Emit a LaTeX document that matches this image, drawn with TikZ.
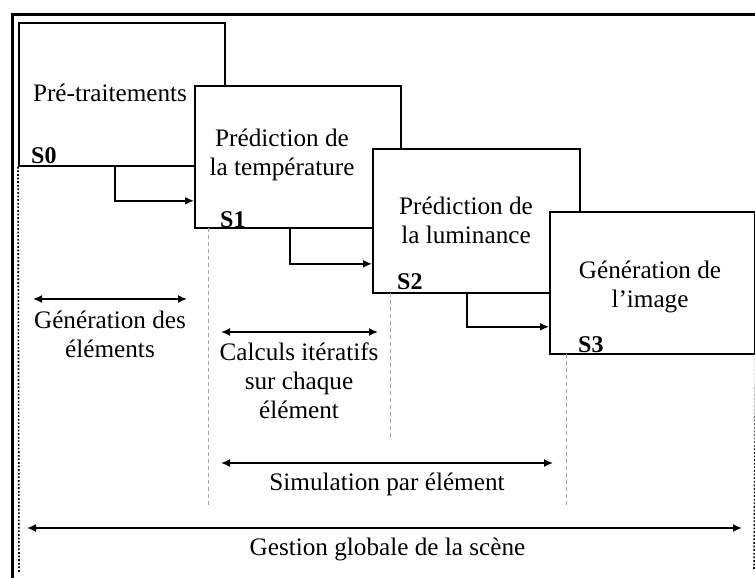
\documentclass[tikz,border=0pt]{standalone}
\usepackage{fontspec}
\setmainfont{Liberation Serif}
\usetikzlibrary{arrows.meta}
\begin{document}
\begin{tikzpicture}[x=1pt,y=-1pt,
  every node/.style={font=\fontsize{25.2}{29}\selectfont, inner sep=0pt},
  box/.style={draw, fill=white, line width=1.8pt, inner sep=0pt, anchor=north west},
  lbl/.style={anchor=base, align=center},
  slbl/.style={anchor=base west, font=\fontsize{24}{28}\selectfont\bfseries},
  arr/.style={line width=1.6pt, -{Latex[length=9pt,width=8pt]}},
  darr/.style={line width=1.6pt, {Latex[length=9pt,width=8pt]}-{Latex[length=9pt,width=8pt]}},
  grayline/.style={draw=black!35, line width=0.6pt, dash pattern=on 4pt off 3pt},
  dotline/.style={line width=1.6pt, dash pattern=on 1.8pt off 1.8pt}]
\useasboundingbox (0,0) rectangle (755,578);
% outer frame
\draw[line width=3pt] (12,578) -- (12,15) -- (755,15);
% boxes
\node[box, minimum width=206pt, minimum height=143pt] (b0) at (18,22) {};
\node[box, minimum width=206pt, minimum height=142pt] (b1) at (194,85) {};
\node[box, minimum width=207pt, minimum height=144pt] (b2) at (372,148) {};
\node[box, minimum width=205pt, minimum height=142pt] (b3) at (549,211) {};
% box texts (anchor = baseline of last line)
\node[lbl] (t0) at (110,102) {Pré-traitements};
\node[lbl] (t1) at (282,175) {Prédiction de\\la température};
\node[lbl] (t2) at (466,243) {Prédiction de\\la luminance};
\node[lbl] (t3) at (650,307) {Génération de\\l’image};
\node[slbl] (s0) at (31,163) {S0};
\node[slbl] (s1) at (220,227) {S1};
\node[slbl] (s2) at (397,289) {S2};
\node[slbl] (s3) at (578,352) {S3};
% connectors between boxes
\draw[arr] ([xshift=97pt]b0.south west) |- ([yshift=28pt]b1.south west);
\draw[arr] ([xshift=96pt]b1.south west) |- ([yshift=30pt]b2.south west);
\draw[arr] ([xshift=95pt]b2.south west) |- ([yshift=28pt]b3.south west);
% dotted verticals
\coordinate (lbot) at (19,572);
\coordinate (rbot) at (754,570);
\draw[dotline] (b0.south west) -- (lbot);
\draw[dotline] (b3.south east) -- (rbot);
% gray dashed verticals
\coordinate (ga1) at (208,228); \coordinate (ga2) at (208,505);
\coordinate (gb1) at (390,293); \coordinate (gb2) at (390,438);
\coordinate (gc1) at (566,354); \coordinate (gc2) at (566,505);
\draw[grayline] (ga1) -- (ga2);
\draw[grayline] (gb1) -- (gb2);
\draw[grayline] (gc1) -- (gc2);
% span arrows
\coordinate (a1) at (33,299); \coordinate (a2) at (187,299);
\coordinate (c1) at (221,332); \coordinate (c2) at (378,332);
\coordinate (m1) at (221,463); \coordinate (m2) at (553,463);
\coordinate (e1) at (27,528); \coordinate (e2) at (742,528);
\draw[darr] (a1) -- (a2);
\draw[darr] (c1) -- (c2);
\draw[darr] (m1) -- (m2);
\draw[darr] (e1) -- (e2);
\node[lbl] (la) at (110,357) {Génération des\\éléments};
\node[lbl] (lc) at (299,418) {Calculs itératifs\\sur chaque\\élément};
\node[lbl] (lm) at (387,490) {Simulation par élément};
\node[lbl] (le) at (387.5,555) {Gestion globale de la scène};
\end{tikzpicture}
\end{document}
